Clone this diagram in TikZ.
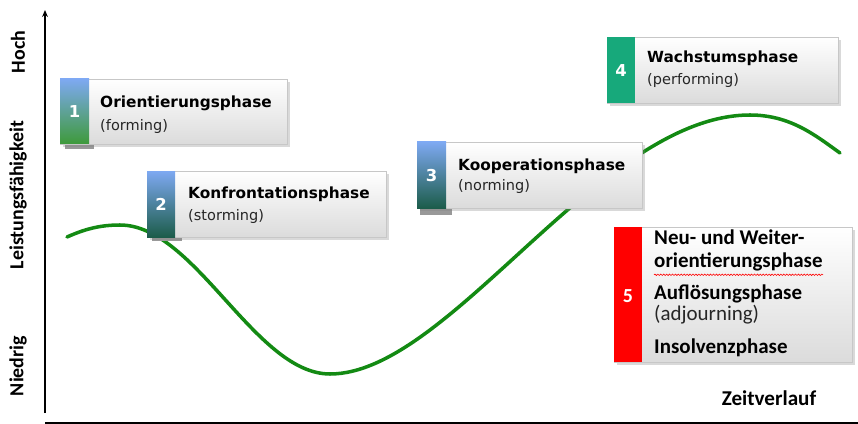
\documentclass[tikz,border=0pt]{standalone}
\usepackage{fontspec}
\setmainfont{DejaVu Sans}
\newfontfamily\calibfont{Carlito}
\usetikzlibrary{shadows,decorations.pathmorphing,arrows.meta}
\definecolor{curvegreen}{HTML}{138A13}
\definecolor{stripblue}{HTML}{7EA9F2}
\definecolor{stripgreen}{HTML}{3E9A3A}
\definecolor{stripteal}{HTML}{1C5C4A}
\definecolor{phasegreen}{HTML}{17A97B}
\definecolor{phasered}{HTML}{FF0000}

\begin{document}
\begin{tikzpicture}[x=0.03cm, y=-0.03cm,
  face/.style={top color=white, bottom color=black!14, draw=black!22, line width=0.6pt,
    drop shadow={shadow xshift=2.5pt, shadow yshift=-2.5pt, opacity=0.3}},
  tab/.style={fill=black!40},
  num/.style={text=white, inner sep=0pt, font=\bfseries\fontsize{14}{16}\selectfont},
  title/.style={anchor=base west, inner sep=0pt, font=\bfseries\fontsize{13.1}{15}\selectfont},
  sub/.style={anchor=base west, inner sep=0pt, text=black!85, font=\fontsize{12.4}{14}\selectfont},
  ctitle/.style={anchor=base west, inner sep=0pt, font=\calibfont\bfseries\fontsize{17.9}{20}\selectfont},
  csub/.style={anchor=base west, inner sep=0pt, text=black!85, font=\calibfont\fontsize{17.9}{20}\selectfont},
  axislabel/.style={rotate=90, inner sep=0pt, font=\calibfont\bfseries\fontsize{17}{19}\selectfont}]
  \useasboundingbox (0,0) rectangle (858,424);

  % axes
  \coordinate (origin) at (45,413);
  \coordinate (ytop) at (45,10);
  \coordinate (xleft) at (45,423);
  \coordinate (xright) at (858,423);
  \draw[line width=1.3pt, -{Stealth[length=6pt,width=5pt]}] (origin) -- (ytop);
  \draw[line width=1.3pt] (xleft) -- (xright);
  \node[axislabel] (hoch) at (18,52) {Hoch};
  \node[axislabel] (leistung) at (18,195) {Leistungsfähigkeit};
  \node[axislabel] (niedrig) at (18,366) {Niedrig};
  \node[anchor=base, inner sep=0pt, font=\calibfont\bfseries\fontsize{18}{20}\selectfont] (zeit) at (769,405) {Zeitverlauf};

  % curve
  \draw[curvegreen, line width=3pt, line cap=round]
    (67,237) .. controls (85,229) and (100,225) .. (120,225)
             .. controls (195,225) and (255,374) .. (330,374)
             .. controls (450,374) and (600,115) .. (750,115)
             .. controls (790,115) and (815,135) .. (840,153);

  % phase 1
  \fill[tab] (65,140) rectangle (94,149);
  \path[face] (60,79) rectangle (287,144);
  \shade[top color=stripblue, bottom color=stripgreen] (60,79) rectangle (89,144);
  \node[num] (n1) at (74.5,112) {1};
  \node[title] (t1) at (100,108) {Orientierungsphase};
  \node[sub] (s1) at (100,131) {(forming)};

  % phase 2
  \fill[tab] (152,233) rectangle (182,241);
  \path[face] (147,171) rectangle (386,237);
  \shade[top color=stripblue, bottom color=stripteal] (147,171) rectangle (175,237);
  \node[num] (n2) at (161,204) {2};
  \node[title] (t2) at (188,198) {Konfrontationsphase};
  \node[sub] (s2) at (188,220) {(storming)};

  % phase 3
  \fill[tab] (420,204) rectangle (452,215);
  \path[face] (417,142) rectangle (642,208);
  \shade[top color=stripblue, bottom color=stripteal] (417,142) rectangle (446,208);
  \node[num] (n3) at (431.5,176) {3};
  \node[title] (t3) at (458,170) {Kooperationsphase};
  \node[sub] (s3) at (458,190) {(norming)};

  % phase 4
  \path[face] (607,37) rectangle (838,103);
  \fill[phasegreen] (607,37) rectangle (635,103);
  \node[num] (n4) at (621,71) {4};
  \node[title] (t4) at (647,63) {Wachstumsphase};
  \node[sub] (s4) at (647,85) {(performing)};

  % phase 5
  \path[face] (614,227) rectangle (852,362);
  \fill[phasered] (614,227) rectangle (642,362);
  \node[num, font=\calibfont\bfseries\fontsize{17}{19}\selectfont] (n5) at (628,296) {5};
  \node[ctitle] (t5a) at (654,244) {Neu- und Weiter-};
  \node[ctitle] (t5b) at (654,267) {orientierungsphase};
  \draw[red, line width=0.5pt, decorate, decoration={snake, amplitude=0.6pt, segment length=2.5pt}]
    (t5b.south west) ++(0,4) -- ++(169,0);
  \node[ctitle] (t5c) at (654,299) {Auflösungsphase};
  \node[csub] (s5) at (654,320) {(adjourning)};
  \node[ctitle] (t5d) at (654,353) {Insolvenzphase};
\end{tikzpicture}
\end{document}
